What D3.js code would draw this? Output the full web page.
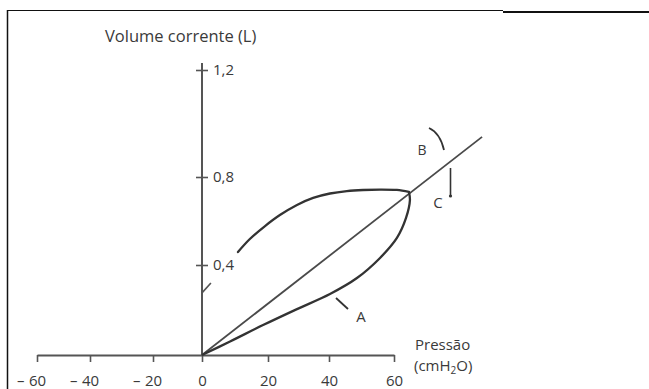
<!DOCTYPE html>
<html lang="pt">
<head>
<meta charset="UTF-8">
<script src="https://cdn.jsdelivr.net/npm/d3@7/dist/d3.min.js"></script>
<title>Volume corrente x Pressão</title>
<style>
  body { margin: 0; background: #fff; }
  svg text { font-family: "Open Sans", "Noto Sans", sans-serif; fill: #3a3a3a; }
</style>
</head>
<body>
<div id="chart"></div>
<script>
// pressure (cmH2O) and tidal volume (L)
var xTicks = [-60, -40, -20, 0, 20, 40, 60];
var yTicks = [0.4, 0.8, 1.2];

// curve A: inspiration, lower branch of the loop
var inspP = [0, 8.5, 18.5, 29.5, 40.3, 48.6, 55.7, 60.9, 63.7, 64.9, 64.6];
var inspV = [0, 0.06, 0.133, 0.204, 0.271, 0.342, 0.432, 0.523, 0.614, 0.695, 0.732];

// expiration, upper branch (drawn with a gap near the axis)
var expP = [64.6, 60.9, 55.7, 50.5, 45.5, 40.3, 34.8, 29.5, 23.9, 19.1, 14.5, 10.9];
var expV = [0.732, 0.741, 0.743, 0.741, 0.736, 0.725, 0.705, 0.673, 0.627, 0.577, 0.518, 0.459];
var tailP = [2.7, 0];
var tailV = [0.32, 0.276];

// straight compliance line
var lineP = [0, 87.1];
var lineV = [0, 0.95];

var width = 649, height = 389;
var svg = d3.select("#chart").append("svg").attr("width", width).attr("height", height);

// the drawing is hand made, so the scales are piecewise to follow its ticks
var x = d3.scaleLinear().domain([-60, -40, -20, 0, 20, 40, 60]).range([37, 90, 153, 202, 268, 329, 394]);
var y = d3.scaleLinear().domain([0, 0.4, 0.8, 1.2]).range([355, 265, 177, 70]);

// frame
svg.append("line").attr("x1", 7.5).attr("y1", 10).attr("x2", 7.5).attr("y2", height)
    .attr("stroke", "#111").attr("stroke-width", 1.5);
svg.append("line").attr("x1", 7).attr("y1", 10.5).attr("x2", 503).attr("y2", 10.5)
    .attr("stroke", "#111").attr("stroke-width", 1.2);
svg.append("line").attr("x1", 503).attr("y1", 12).attr("x2", width).attr("y2", 12)
    .attr("stroke", "#111").attr("stroke-width", 2);

// x axis
var xAxis = svg.append("g").attr("transform", "translate(0," + y(0) + ")")
    .call(d3.axisBottom(x).tickValues(xTicks).tickSize(7).tickSizeOuter(0).tickPadding(13)
        .tickFormat(function(d) { return Math.abs(d); }));
xAxis.select(".domain").attr("stroke", "#555").attr("stroke-width", 2);
xAxis.selectAll(".tick line").attr("stroke", "#555").attr("stroke-width", 1.6);
xAxis.selectAll(".tick text").attr("font-size", 15).attr("fill", "#3a3a3a");
xAxis.selectAll(".tick").filter(function(d) { return d < 0; })
    .append("text").attr("x", -13).attr("y", 20).attr("dy", "0.71em")
    .attr("text-anchor", "end").attr("font-size", 15).attr("fill", "#3a3a3a").text("–");

// y axis
svg.append("line").attr("x1", x(0)).attr("x2", x(0)).attr("y1", y(0)).attr("y2", y(1.2) - 7)
    .attr("stroke", "#555").attr("stroke-width", 2);
var yAxis = svg.append("g").attr("transform", "translate(" + x(0) + ",0)")
    .call(d3.axisRight(y).tickValues(yTicks).tickSize(6).tickPadding(5)
        .tickFormat(function(d) { return d3.format(".1f")(d).replace(".", ","); }));
yAxis.select(".domain").remove();
yAxis.selectAll(".tick line").attr("x1", -6).attr("stroke", "#555").attr("stroke-width", 1.6);
yAxis.selectAll(".tick text").attr("font-size", 15).attr("fill", "#3a3a3a");

// titles
svg.append("text").attr("x", 105).attr("y", 42).attr("font-size", 16.5).text("Volume corrente (L)");
svg.append("text").attr("x", 415).attr("y", 350).attr("font-size", 15).text("Pressão");
var unit = svg.append("text").attr("x", 414).attr("y", 371).attr("font-size", 15);
unit.append("tspan").text("(cmH");
unit.append("tspan").attr("font-size", 10).attr("dy", 3).text("2");
unit.append("tspan").attr("dy", -3).text("O)");

var line = d3.line().x(function(d) { return x(d[0]); }).y(function(d) { return y(d[1]); });
var curve = d3.line().curve(d3.curveCatmullRom)
    .x(function(d) { return x(d[0]); }).y(function(d) { return y(d[1]); });

svg.append("path").datum(d3.zip(lineP, lineV)).attr("d", line)
    .attr("fill", "none").attr("stroke", "#4a4a4a").attr("stroke-width", 1.8);
svg.append("path").datum(d3.zip(inspP, inspV)).attr("d", curve)
    .attr("fill", "none").attr("stroke", "#333").attr("stroke-width", 2.3);
svg.append("path").datum(d3.zip(expP, expV)).attr("d", curve)
    .attr("fill", "none").attr("stroke", "#333").attr("stroke-width", 2.3).attr("stroke-linecap", "round");
svg.append("path").datum(d3.zip(tailP, tailV)).attr("d", line)
    .attr("fill", "none").attr("stroke", "#555").attr("stroke-width", 1.6);

// annotations A, B, C
svg.append("line").attr("x1", 336).attr("y1", 298).attr("x2", 348).attr("y2", 309)
    .attr("stroke", "#333").attr("stroke-width", 1.8);
svg.append("text").attr("x", 361).attr("y", 322).attr("text-anchor", "middle").attr("font-size", 15).text("A");

svg.append("path").attr("d", "M429,128 Q440,133 444,150")
    .attr("fill", "none").attr("stroke", "#333").attr("stroke-width", 1.8);
svg.append("text").attr("x", 422).attr("y", 155).attr("text-anchor", "middle").attr("font-size", 14).text("B");

svg.append("line").attr("x1", 450.5).attr("y1", 168).attr("x2", 450.5).attr("y2", 196)
    .attr("stroke", "#333").attr("stroke-width", 1.6);
svg.append("circle").attr("cx", 450.5).attr("cy", 196).attr("r", 1.6).attr("fill", "#333");
svg.append("text").attr("x", 438).attr("y", 208).attr("text-anchor", "middle").attr("font-size", 15).text("C");
</script>
</body>
</html>
